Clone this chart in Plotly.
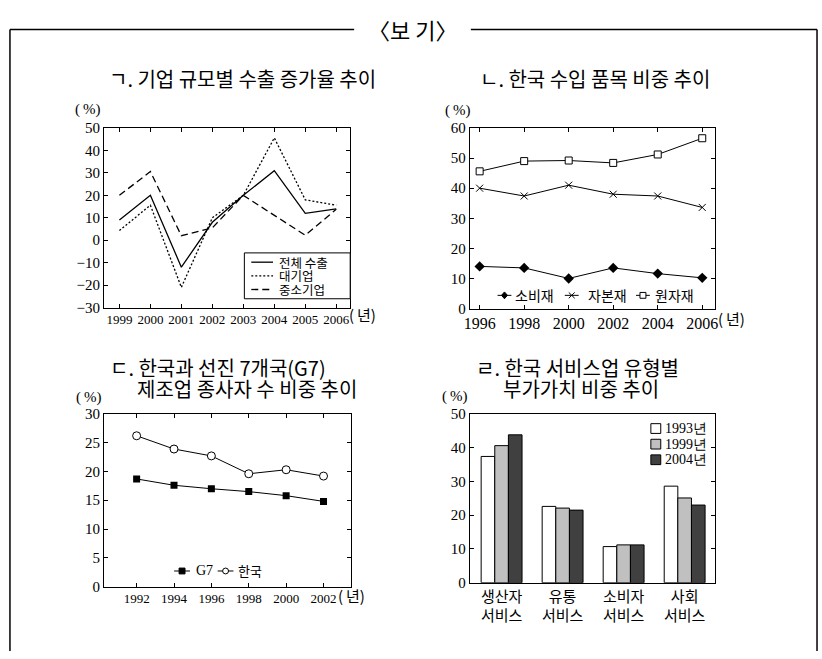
import plotly.graph_objects as go

W, H = 822, 659
def px(x): return x / W
def py(y): return 1 - y / H

KR = "Noto Sans CJK KR"
SERIF = "Liberation Serif"

# ---- Chart 1 data ----
years1 = ["1999", "2000", "2001", "2002", "2003", "2004", "2005", "2006"]
total_export = [9, 20, -12, 8, 20, 31, 12, 14]
large_firms = [4.3, 15.6, -21, 10, 20, 45.6, 18, 15.6]
sme = [20, 30.6, 2, 5.5, 20, 11, 2.2, 13.8]
names1 = ["전체 수출", "대기업", "중소기업"]

# ---- Chart 2 data ----
years2 = [1996, 1998, 2000, 2002, 2004, 2006]
consumer = [14, 13.5, 10, 13.5, 11.6, 10.2]
capital = [40, 37.4, 41, 38, 37.4, 33.6]
raw = [45.6, 49, 49.2, 48.4, 51.2, 56.6]
names2 = ["소비재", "자본재", "원자재"]

# ---- Chart 3 data ----
years3 = [1992, 1994, 1996, 1998, 2000, 2002]
g7 = [18.7, 17.6, 17.0, 16.5, 15.8, 14.8]
korea = [26.2, 23.9, 22.7, 19.6, 20.3, 19.2]
names3 = ["G7", "한국"]

# ---- Chart 4 data ----
services = ["생산자<br>서비스", "유통<br>서비스", "소비자<br>서비스", "사회<br>서비스"]
v1993 = [37.4, 22.6, 10.7, 28.6]
v1999 = [40.6, 22.1, 11.2, 25.1]
v2004 = [43.8, 21.5, 11.2, 23.0]
names4 = ["1993년", "1999년", "2004년"]

dash1 = ["solid", "2px,2px", "7px,4px"]
colors4 = ["white", "#c0c0c0", "#404040"]

fig = go.Figure()

# Chart 1
for y, nm, dash in zip([total_export, large_firms, sme], names1, dash1):
    fig.add_trace(go.Scatter(x=years1, y=y, name=nm, mode="lines",
                             line=dict(color="black", width=1.3, dash=dash),
                             xaxis="x", yaxis="y"))

# Chart 2
fig.add_trace(go.Scatter(x=years2, y=consumer, name=names2[0], mode="lines+markers",
                         line=dict(color="black", width=1),
                         marker=dict(symbol="diamond", size=8, color="black"),
                         xaxis="x2", yaxis="y2"))
fig.add_trace(go.Scatter(x=years2, y=capital, name=names2[1], mode="lines+markers",
                         line=dict(color="black", width=1),
                         marker=dict(symbol="x-thin-open", size=7, color="black", line=dict(width=1, color="black")),
                         xaxis="x2", yaxis="y2"))
fig.add_trace(go.Scatter(x=years2, y=raw, name=names2[2], mode="lines+markers",
                         line=dict(color="black", width=1),
                         marker=dict(symbol="square", size=7, color="white", line=dict(width=1, color="black")),
                         xaxis="x2", yaxis="y2"))

# Chart 3
fig.add_trace(go.Scatter(x=years3, y=g7, name=names3[0], mode="lines+markers",
                         line=dict(color="black", width=1),
                         marker=dict(symbol="square", size=7, color="black"),
                         xaxis="x3", yaxis="y3"))
fig.add_trace(go.Scatter(x=years3, y=korea, name=names3[1], mode="lines+markers",
                         line=dict(color="black", width=1),
                         marker=dict(symbol="circle", size=8, color="white", line=dict(width=1, color="black")),
                         xaxis="x3", yaxis="y3"))

# Chart 4
for vals, nm, col in zip([v1993, v1999, v2004], names4, colors4):
    fig.add_trace(go.Bar(x=services, y=vals, name=nm,
                         marker=dict(color=col, line=dict(color="black", width=1)),
                         xaxis="x4", yaxis="y4"))

axis_common = dict(showline=True, mirror="ticks", linecolor="black", linewidth=1,
                   ticks="inside", ticklen=4, tickcolor="black", showgrid=False,
                   zeroline=False, fixedrange=True)
num_font = dict(family=SERIF, size=15, color="black")

fig.update_layout(
    width=W, height=H, margin=dict(l=0, r=0, t=0, b=0),
    paper_bgcolor="white", plot_bgcolor="white", showlegend=False,
    barmode="group", bargap=0.33, bargroupgap=0,
    xaxis=dict(axis_common, domain=[px(99), px(348)], anchor="y", type="category",
               range=[-0.5, 7.45], tickfont=dict(family=SERIF, size=13, color="black")),
    yaxis=dict(axis_common, domain=[py(307), py(123)], anchor="x",
               range=[-30, 50], dtick=10, tickfont=num_font),
    xaxis2=dict(axis_common, domain=[px(469), px(717)], anchor="y2",
                range=[1995.56, 2006.58], tickvals=years2,
                tickfont=dict(family=SERIF, size=16, color="black")),
    yaxis2=dict(axis_common, domain=[py(308), py(123)], anchor="x2",
                range=[0, 60], dtick=10, tickfont=num_font),
    xaxis3=dict(axis_common, domain=[px(99), px(349)], anchor="y3",
                range=[1990.25, 2003.48], tickvals=years3,
                tickfont=dict(family=SERIF, size=13, color="black")),
    yaxis3=dict(axis_common, domain=[py(593), py(416)], anchor="x3",
                range=[0, 30], dtick=5, tickfont=num_font),
    xaxis4=dict(axis_common, domain=[px(469), px(717)], anchor="y4", ticks="",
                range=[-0.52, 3.5], tickfont=dict(family=KR, size=15, color="black")),
    yaxis4=dict(axis_common, domain=[py(589), py(416)], anchor="x4",
                range=[0, 50], dtick=10, tickfont=num_font),
)

ann = []
def text(x, y, s, size=17, family=KR, xanchor="left"):
    ann.append(dict(x=px(x), y=py(y), xref="paper", yref="paper", text=s, showarrow=False,
                    xanchor=xanchor, yanchor="middle", font=dict(family=family, size=size, color="black")))

shapes = []
def line(x0, y0, x1, y1, width=1.5, dash="solid", color="black"):
    shapes.append(dict(type="line", xref="paper", yref="paper", x0=px(x0), y0=py(y0), x1=px(x1), y1=py(y1),
                       line=dict(color=color, width=width, dash=dash)))

def rect(x0, y0, x1, y1, fill, width=1):
    shapes.append(dict(type="rect", xref="paper", yref="paper", x0=px(x0), y0=py(y1), x1=px(x1), y1=py(y0),
                       line=dict(color="black", width=width), fillcolor=fill))

def sym(kind, cx, cy, r=3):
    if kind == "diamond":
        path = "M {} {} L {} {} L {} {} L {} {} Z".format(
            px(cx), py(cy - r - 0.5), px(cx + r), py(cy), px(cx), py(cy + r + 0.5), px(cx - r), py(cy))
        shapes.append(dict(type="path", xref="paper", yref="paper", path=path,
                           line=dict(color="black", width=1), fillcolor="black"))
    elif kind == "x":
        line(cx - r, cy - r, cx + r, cy + r, width=1)
        line(cx - r, cy + r, cx + r, cy - r, width=1)
    elif kind == "square-open":
        rect(cx - r, cy - r, cx + r, cy + r, "white")
    elif kind == "square":
        rect(cx - r, cy - r, cx + r, cy + r, "black")
    elif kind == "circle-open":
        shapes.append(dict(type="circle", xref="paper", yref="paper", x0=px(cx - r), x1=px(cx + r),
                           y0=py(cy + r), y1=py(cy - r), line=dict(color="black", width=1), fillcolor="white"))

text(411, 22, "〈보 기〉", size=22, xanchor="center")
text(102, 72, "ㄱ. 기업 규모별 수출 증가율 추이", size=20)
text(477, 72, "ㄴ. 한국 수입 품목 비중 추이", size=20)
text(103, 368, "ㄷ. 한국과 선진 7개국(G7)", size=20)
text(130, 390, "제조업 종사자 수 비중 추이", size=20)
text(473, 368, "ㄹ. 한국 서비스업 유형별", size=20)
text(500, 390, "부가가치 비중 추이", size=20)
for (x, y) in [(83, 104), (457, 105), (84, 399), (454, 398)]:
    text(x, y, "(\u2009%)", size=15, family=SERIF, xanchor="center")
text(345, 314, "(\u2009년)", size=15)
text(718, 318, "(\u2009년)", size=15)
text(334, 602, "(\u2009년)", size=15)

# Chart 1 legend box
rect(241, 251, 348, 298, "white")
for i, (nm, dash) in enumerate(zip(names1, dash1)):
    yy = 260.5 + i * 14
    line(248, yy, 270, yy, width=1.3, dash=dash)
    text(274, yy, nm, size=12.5)

# Chart 2 legend
for nm, kind, lx, tx in zip(names2, ["diamond", "x", "square-open"], [497, 565, 637], [513, 586, 654]):
    yy = 294.5
    line(lx, yy, lx + 14, yy, width=1)
    sym(kind, lx + 7, yy, r=3)
    text(tx, yy, nm, size=14)

# Chart 3 legend
for nm, kind, lx, tx, fam, sz in zip(names3, ["square", "circle-open"], [170, 214], [190, 233],
                                     [SERIF, KR], [14, 13]):
    yy = 577
    line(lx, yy, lx + 16, yy, width=1)
    sym(kind, lx + 8, yy, r=3)
    text(tx, yy, nm, size=sz, family=fam)

# Chart 4 legend
for i, (nm, col) in enumerate(zip(names4, colors4)):
    yy = 431 + i * 16
    rect(652, yy - 5, 662, yy + 5, col)
    text(664, yy, nm, size=14, family=SERIF)

# outer frame
for (x0, y0, x1, y1) in [(4, 22, 352, 22), (470, 22, 820, 22), (4, 22, 4, 659), (820, 22, 820, 659)]:
    line(x0, y0, x1, y1)

fig.update_layout(annotations=ann, shapes=shapes)

fig.write_html("out.html", config={"displayModeBar": False},
               post_script="document.documentElement.style.margin='0';document.body.style.margin='0';"
                           "document.body.style.padding='0';document.documentElement.style.overflow='hidden';"
                           "document.body.style.overflow='hidden';")
